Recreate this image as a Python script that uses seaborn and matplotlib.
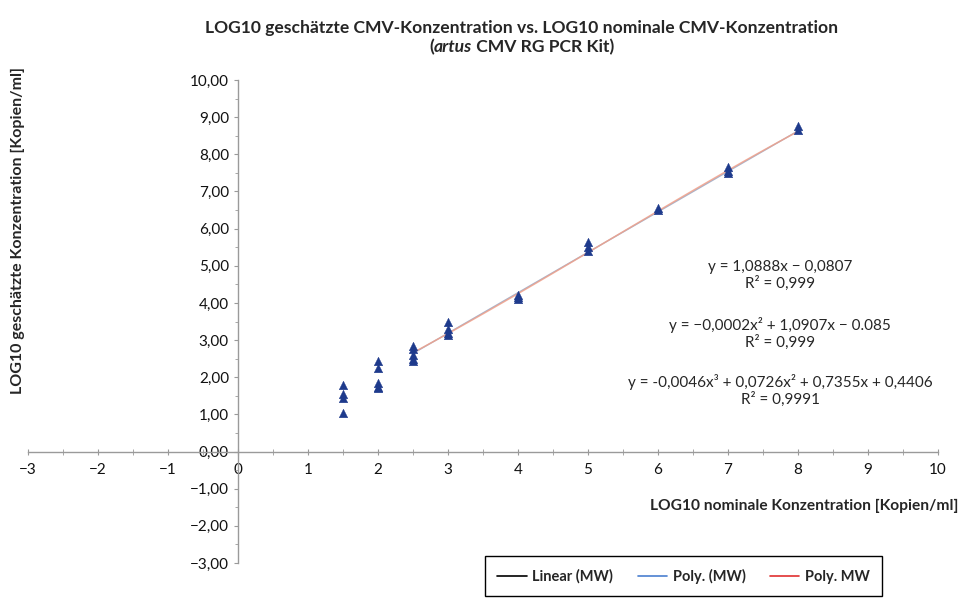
import numpy as np
import pandas as pd
import matplotlib
matplotlib.use("Agg")
import matplotlib.pyplot as plt
from matplotlib.lines import Line2D
from matplotlib.ticker import MultipleLocator, FuncFormatter
import seaborn as sns

# ---- data ----
nominal_log10 = [1.5, 1.5, 1.5, 1.5,
                 2.0, 2.0, 2.0, 2.0, 2.0,
                 2.5, 2.5, 2.5, 2.5, 2.5,
                 3.0, 3.0, 3.0, 3.0,
                 4.0, 4.0, 4.0,
                 5.0, 5.0, 5.0,
                 6.0, 6.0,
                 7.0, 7.0, 7.0,
                 8.0, 8.0]
estimated_log10 = [1.80, 1.55, 1.45, 1.05,
                   2.45, 2.25, 1.85, 1.75, 1.70,
                   2.85, 2.75, 2.60, 2.50, 2.45,
                   3.50, 3.30, 3.20, 3.15,
                   4.20, 4.15, 4.10,
                   5.65, 5.50, 5.40,
                   6.55, 6.50,
                   7.65, 7.55, 7.50,
                   8.75, 8.65]

fit_x_range = [2.5, 8.0]
coef_linear = [1.0888, -0.0807]
coef_poly2 = [-0.0002, 1.0907, -0.085]
coef_poly3 = [-0.0046, 0.0726, 0.7355, 0.4406]

legend_labels = ["Linear (MW)", "Poly. (MW)", "Poly. MW"]
equation_texts = [
    "y = 1,0888x \u2212 0,0807\nR\u00b2 = 0,999",
    "y = \u22120,0002x\u00b2 + 1,0907x \u2212 0.085\nR\u00b2 = 0,999",
    "y = -0,0046x\u00b3 + 0,0726x\u00b2 + 0,7355x + 0,4406\nR\u00b2 = 0,9991",
]
title_line1 = "LOG10 geschätzte CMV-Konzentration vs. LOG10 nominale CMV-Konzentration"
subtitle_parts = [("(", "normal"), ("artus", "italic"), (" CMV RG PCR Kit)", "normal")]
xlabel = "LOG10 nominale Konzentration [Kopien/ml]"
ylabel = "LOG10 geschätzte Konzentration [Kopien/ml]"

df = pd.DataFrame({"x": nominal_log10, "y": estimated_log10})

# ---- style ----
sns.set_style("white")
plt.rcParams["font.family"] = ["Lato", "DejaVu Sans"]

fig = plt.figure(figsize=(9.71, 5.98), dpi=100)
ax = fig.add_axes([28 / 971, 1 - 563 / 598, 910 / 971, 483 / 598])

sns.scatterplot(data=df, x="x", y="y", marker="^", s=38, color="#1e3a8c",
                edgecolor="#1e3a8c", linewidth=0.3, ax=ax, zorder=3)

xf = np.linspace(fit_x_range[0], fit_x_range[1], 100)
ax.plot(xf, np.polyval(coef_linear, xf), color="black", lw=1.0, alpha=0.2, zorder=2)
ax.plot(xf, np.polyval(coef_poly2, xf), color="#3a6fd0", lw=1.0, alpha=0.25, zorder=2)
ax.plot(xf, np.polyval(coef_poly3, xf), color="#f0a08a", lw=1.1, alpha=0.85, zorder=2)

ax.set_xlim(-3, 10)
ax.set_ylim(-3, 10)

for s in ["top", "right"]:
    ax.spines[s].set_visible(False)
ax.spines["left"].set_position(("data", 0))
ax.spines["bottom"].set_position(("data", 0))
for s in ["left", "bottom"]:
    ax.spines[s].set_color("#9a9a9a")
    ax.spines[s].set_linewidth(1.0)

ax.xaxis.set_major_locator(MultipleLocator(1))
ax.xaxis.set_minor_locator(MultipleLocator(0.5))
ax.yaxis.set_major_locator(MultipleLocator(1))
ax.yaxis.set_minor_locator(MultipleLocator(0.5))
ax.xaxis.set_major_formatter(FuncFormatter(lambda v, p: f"{v:.0f}".replace("-", "\u2212")))
ax.yaxis.set_major_formatter(FuncFormatter(
    lambda v, p: f"{v:.2f}".replace(".", ",").replace("-", "\u2212")))

ax.tick_params(axis="x", which="both", direction="inout", color="#9a9a9a",
               labelsize=11, pad=6, bottom=True, length=5)
ax.tick_params(axis="y", which="both", direction="out", color="#9a9a9a",
               labelsize=11, left=True)
ax.tick_params(axis="y", which="major", length=3)
ax.tick_params(axis="y", which="minor", length=2)
for lbl in ax.get_xticklabels() + ax.get_yticklabels():
    lbl.set_color("#111111")

ax.set_xlabel("")
ax.set_ylabel("")
fig.text(18 / 971, 1 - 230 / 598, ylabel, rotation=90, ha="center", va="center",
         fontsize=11.5, fontweight="bold")
fig.text(958 / 971, 1 - 506 / 598, xlabel, ha="right", va="center",
         fontsize=11.2, fontweight="bold")

# title
fig.text(522 / 971, 1 - 28 / 598, title_line1, ha="center", va="center",
         fontsize=12.6, fontweight="bold")

# subtitle with italic "artus": lay out pieces side by side, centred
renderer = fig.canvas.get_renderer()
pieces = []
for txt, st in subtitle_parts:
    t = fig.text(0, 1 - 47 / 598, txt, ha="left", va="center", fontsize=12.6,
                 fontweight="bold", style=st)
    pieces.append(t)
widths = [p.get_window_extent(renderer).width for p in pieces]
total = sum(widths)
x0 = 522 - total / 2
for p, w in zip(pieces, widths):
    p.set_x(x0 / 971)
    x0 += w

# equations
eq_y = [275, 333, 390]
for t, yy in zip(equation_texts, eq_y):
    fig.text(780 / 971, 1 - yy / 598, t, ha="center", va="center", fontsize=11,
             linespacing=1.15)

# legend
handles = [Line2D([], [], color=c, lw=1.2) for c in ["black", "#4a7fd0", "#e03030"]]
leg = fig.legend(handles, legend_labels, loc="lower left",
                 bbox_to_anchor=(485 / 971, 2 / 598, 397 / 971, 39 / 598),
                 mode="expand", ncol=3, frameon=True, fancybox=False,
                 edgecolor="black", framealpha=1, borderpad=0.85, borderaxespad=0,
                 handlelength=2.0, handletextpad=0.4, columnspacing=1.0,
                 prop={"weight": "bold", "size": 10.5})
leg.get_frame().set_linewidth(1.0)

fig.savefig("out.png", dpi=100)
